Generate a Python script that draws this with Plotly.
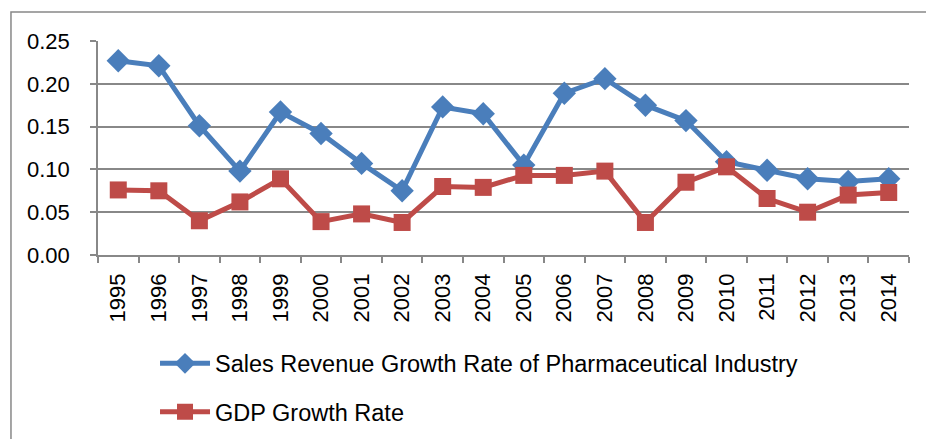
import plotly.graph_objects as go

years = [str(y) for y in range(1995, 2015)]
sales_growth = [0.227, 0.221, 0.151, 0.098, 0.167, 0.142, 0.107, 0.075, 0.173, 0.165,
                0.105, 0.189, 0.206, 0.175, 0.157, 0.109, 0.099, 0.089, 0.086, 0.089]
gdp_growth = [0.076, 0.075, 0.040, 0.062, 0.089, 0.039, 0.048, 0.038, 0.080, 0.079,
              0.093, 0.093, 0.098, 0.038, 0.085, 0.103, 0.066, 0.050, 0.070, 0.073]
series_names = ["Sales Revenue Growth Rate of Pharmaceutical Industry", "GDP Growth Rate"]

fig = go.Figure()
fig.add_trace(go.Scatter(x=years, y=sales_growth, name=series_names[0], mode="lines+markers",
                         line=dict(color="#4A7EBB", width=5),
                         marker=dict(symbol="diamond", size=18, color="#4A7EBB"),
                         legendgroup="a"))
fig.add_trace(go.Scatter(x=years, y=gdp_growth, name=series_names[1], mode="lines+markers",
                         line=dict(color="#BE4B48", width=5),
                         marker=dict(symbol="square", size=17, color="#BE4B48"),
                         legendgroup="b"))

grid_c = "#888888"
fig.update_layout(
    width=926, height=439,
    margin=dict(l=98, r=17, t=41, b=184, autoexpand=False),
    paper_bgcolor="white", plot_bgcolor="white",
    font=dict(family="Liberation Sans", size=22, color="black"),
    showlegend=True,
    legend=dict(xref="container", yref="container", x=0.1674, y=0.222,
                xanchor="left", yanchor="top", orientation="v",
                font=dict(size=23.5), itemwidth=50, tracegroupgap=15,
                bgcolor="rgba(0,0,0,0)"),
    xaxis=dict(type="category", range=[-0.5, 19.5], tickangle=-90, showgrid=False,
               showline=True, linecolor=grid_c, linewidth=1.5, ticks="outside", ticklen=6,
               tickcolor=grid_c, tickwidth=1.5, tickson="boundaries",
               tickfont=dict(size=22), zeroline=False, ticklabelstandoff=8),
    yaxis=dict(range=[0, 0.25], dtick=0.05, tickformat=".2f", showgrid=True,
               gridcolor=grid_c, gridwidth=1.5, showline=True, linecolor=grid_c,
               linewidth=1.5, ticks="outside", ticklen=6, tickcolor=grid_c, tickwidth=1.5,
               zeroline=False, tickfont=dict(size=22), ticklabelstandoff=16),
    shapes=[dict(type="rect", xref="paper", yref="paper",
                 x0=-0.1073, x1=1.2, y0=-1.2, y1=1.1355,
                 line=dict(color=grid_c, width=1.5), layer="below")],
)

fig.write_html("out.html", config={"displayModeBar": False},
               post_script="document.body.style.margin='0';")
